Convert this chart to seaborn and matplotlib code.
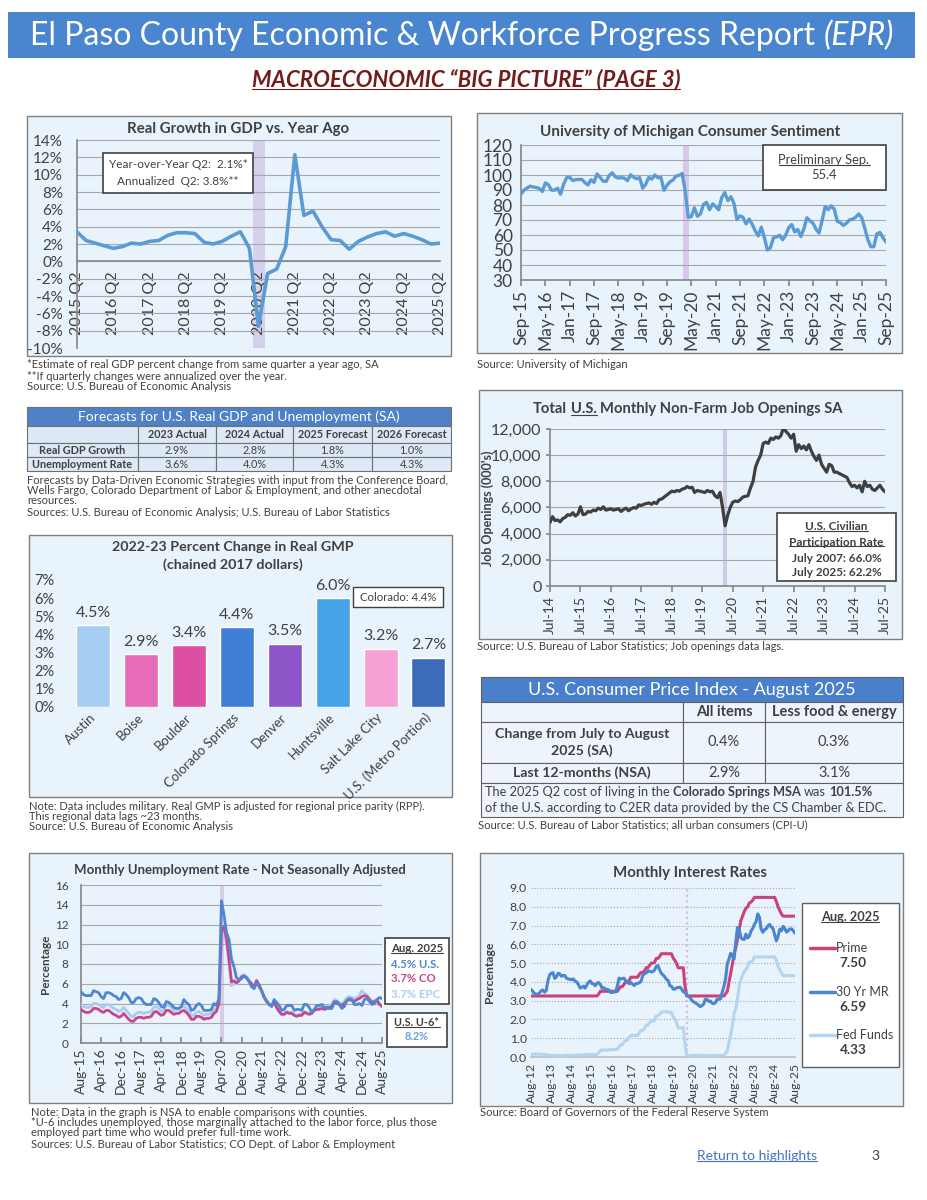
import numpy as np
import seaborn as sns
import matplotlib
matplotlib.use('Agg')
import matplotlib.pyplot as plt
from matplotlib.patches import Rectangle
from matplotlib.lines import Line2D

# ---------------- data ----------------
gdp_ticks = ['2015 Q2', '2016 Q2', '2017 Q2', '2018 Q2', '2019 Q2', '2020 Q2',
             '2021 Q2', '2022 Q2', '2023 Q2', '2024 Q2', '2025 Q2']
gdp_yoy = [3.4, 2.4, 2.1, 1.8, 1.5, 1.7, 2.1, 2.0, 2.3, 2.4, 3.0, 3.3, 3.3, 3.2,
           2.2, 2.0, 2.3, 2.9, 3.4, 1.5, -7.5, -1.4, -0.9, 1.7, 12.3, 5.3, 5.8,
           4.0, 2.5, 2.4, 1.4, 2.3, 2.8, 3.2, 3.4, 2.9, 3.2, 2.9, 2.5, 2.0, 2.1]

sent_ticks = ['Sep-15', 'May-16', 'Jan-17', 'Sep-17', 'May-18', 'Jan-19', 'Sep-19',
              'May-20', 'Jan-21', 'Sep-21', 'May-22', 'Jan-23', 'Sep-23', 'May-24',
              'Jan-25', 'Sep-25']
sentiment = [87.2, 90.0, 91.3, 92.6,
             92.0, 91.7, 91.0, 89.0, 94.7, 93.5, 90.0, 89.8, 91.2, 87.2, 93.8, 98.2,
             98.5, 96.3, 96.9, 97.0, 97.1, 95.0, 93.4, 96.8, 95.1, 100.7, 98.5, 95.9,
             95.7, 99.7, 101.4, 98.8, 98.0, 98.2, 97.9, 96.2, 100.1, 98.6, 97.5, 98.3,
             91.2, 93.8, 98.4, 97.2, 100.0, 98.2, 98.4, 89.8, 93.2, 95.5, 96.8, 99.3,
             99.8, 101.0, 89.1, 71.8, 72.3, 78.1, 72.5, 74.1, 80.4, 81.8, 76.9, 80.7,
             79.0, 76.8, 84.9, 88.3, 82.9, 85.5, 81.2, 70.3, 72.8, 71.7, 67.4, 70.6,
             67.2, 62.8, 59.4, 65.2, 58.4, 50.0, 51.5, 58.2, 58.6, 59.9, 56.8, 59.7,
             64.9, 67.0, 62.0, 63.7, 59.0, 64.2, 71.5, 69.4, 67.9, 63.8, 61.3, 69.7,
             79.0, 76.9, 79.4, 77.2, 69.1, 68.2, 66.4, 67.9, 70.1, 70.5, 71.8, 74.0,
             71.7, 64.7, 57.0, 52.2, 52.2, 60.7, 61.7, 58.2, 55.4]

fc_cols = ['2023 Actual', '2024 Actual', '2025 Forecast', '2026 Forecast']
fc_rows = ['Real GDP Growth', 'Unemployment Rate']
fc_vals = [['2.9%', '2.8%', '1.8%', '1.0%'],
           ['3.6%', '4.0%', '4.3%', '4.3%']]

gmp_cities = ['Austin', 'Boise', 'Boulder', 'Colorado Springs', 'Denver',
              'Huntsville', 'Salt Lake City', 'U.S. (Metro Portion)']
gmp_change = [4.5, 2.9, 3.4, 4.4, 3.5, 6.0, 3.2, 2.7]
gmp_colors = ['#a8cdf2', '#e76bb8', '#dc4fa4', '#3f7fd8', '#8c55c8', '#46a3e8',
              '#f6a0d6', '#3b6cba']

job_ticks = ['Jul-14', 'Jul-15', 'Jul-16', 'Jul-17', 'Jul-18', 'Jul-19', 'Jul-20',
             'Jul-21', 'Jul-22', 'Jul-23', 'Jul-24', 'Jul-25']
job_openings = [4850, 5300, 5000, 5050, 4900, 5150,
                5250, 5450, 5400, 5600, 5350, 5500, 6050, 5450, 5500, 5700, 5650, 5800,
                5750, 5950, 5850, 6050, 5800, 5850, 5900, 5800, 5850, 5900, 5700, 5850,
                5950, 5750, 5900, 6000, 5950, 6200, 6150, 6250, 6300, 6350, 6250, 6400,
                6300, 6600, 6650, 6800, 6950, 7100, 7250, 7200, 7300, 7250, 7400, 7450,
                7600, 7500, 7550, 7150, 7300, 7250, 7200, 7150, 7300, 7200, 7250, 6900,
                6750, 7150, 6000, 4600, 5400, 6000, 6400, 6500, 6450, 6600, 6800, 6850,
                6900, 7500, 8000, 9100, 9600, 10000, 10900, 11000, 10900, 11300, 11200, 11400,
                11300, 11500, 12100, 11800, 11600, 11300, 11600, 10300, 10800, 10500, 10700, 10400,
                10800, 10300, 9900, 9600, 10000, 9300, 9000, 8700, 9300, 9200, 8700, 8700,
                8600, 8500, 8400, 8300, 7900, 7600, 7700, 7500, 7700, 7200, 8000, 7600,
                7700, 7400, 7300, 7500, 7700, 7400, 7200]

cpi_cols = ['All items', 'Less food & energy']
cpi_rows = ['Change from July to August\n2025 (SA)', 'Last 12-months (NSA)']
cpi_vals = [['0.4%', '0.3%'], ['2.9%', '3.1%']]

unemp_ticks = ['Aug-15', 'Apr-16', 'Dec-16', 'Aug-17', 'Apr-18', 'Dec-18', 'Aug-19',
               'Apr-20', 'Dec-20', 'Aug-21', 'Apr-22', 'Dec-22', 'Aug-23', 'Apr-24',
               'Dec-24', 'Aug-25']
unemp_us = [5.2, 4.9, 4.8, 4.8, 4.8,
            5.3, 5.2, 5.1, 4.7, 4.5, 5.1, 5.1, 5.0, 4.8, 4.7, 4.4, 4.5,
            5.1, 4.9, 4.6, 4.1, 4.1, 4.5, 4.6, 4.5, 4.1, 3.9, 3.9, 3.9,
            4.5, 4.4, 4.1, 3.7, 3.6, 4.2, 4.1, 3.9, 3.6, 3.5, 3.5, 3.7,
            4.4, 4.1, 3.9, 3.3, 3.4, 3.8, 4.0, 3.8, 3.3, 3.3, 3.3, 3.4,
            4.0, 3.8, 4.5, 14.4, 13.0, 11.2, 10.5, 8.5, 7.7, 6.6, 6.4, 6.5,
            6.8, 6.6, 6.2, 5.7, 5.5, 6.1, 5.7, 5.3, 4.6, 4.3, 3.9, 3.7,
            4.4, 4.1, 3.8, 3.3, 3.4, 3.8, 3.8, 3.8, 3.3, 3.4, 3.4, 3.3,
            3.9, 3.9, 3.6, 3.1, 3.4, 3.8, 3.8, 3.9, 3.6, 3.6, 3.5, 3.5,
            4.1, 4.2, 3.9, 3.5, 3.7, 4.3, 4.5, 4.4, 3.9, 3.9, 4.0, 3.8,
            4.4, 4.5, 4.2, 3.9, 4.0, 4.4, 4.6, 4.5]
unemp_co = [3.4, 3.2, 3.1, 3.1, 3.2,
            3.5, 3.5, 3.4, 3.2, 3.1, 3.3, 3.3, 3.1, 2.9, 2.8, 2.6, 2.7,
            3.0, 2.7, 2.4, 2.2, 2.2, 2.5, 2.6, 2.6, 2.5, 2.6, 2.6, 2.7,
            3.1, 3.2, 3.0, 2.8, 2.9, 3.3, 3.3, 3.1, 2.9, 3.0, 3.0, 3.2,
            3.3, 3.1, 2.8, 2.4, 2.4, 2.7, 2.7, 2.6, 2.4, 2.5, 2.5, 2.6,
            3.0, 3.2, 4.0, 11.3, 11.8, 10.6, 8.5, 6.2, 6.3, 6.1, 6.3, 6.7,
            6.8, 6.6, 6.3, 6.0, 5.7, 6.3, 5.9, 5.3, 4.7, 4.2, 3.9, 3.8,
            4.2, 3.6, 3.2, 2.9, 2.9, 3.1, 3.0, 3.0, 2.8, 2.7, 2.8, 2.8,
            3.1, 3.0, 2.9, 3.0, 3.3, 3.4, 3.4, 3.5, 3.4, 3.5, 3.6, 3.7,
            4.2, 4.0, 3.9, 3.8, 4.0, 4.3, 4.4, 4.3, 4.2, 4.4, 4.5, 4.7,
            4.8, 4.7, 4.4, 4.1, 4.2, 4.3, 3.9, 3.7]
unemp_epc = [3.9, 3.7, 3.6, 3.6, 3.7,
             4.0, 4.0, 3.9, 3.7, 3.6, 3.9, 3.9, 3.7, 3.5, 3.4, 3.2, 3.3,
             3.6, 3.3, 3.0, 2.7, 2.7, 3.0, 3.1, 3.1, 3.0, 3.1, 3.1, 3.2,
             3.6, 3.7, 3.5, 3.2, 3.3, 3.8, 3.8, 3.6, 3.3, 3.4, 3.4, 3.6,
             3.7, 3.5, 3.2, 2.8, 2.8, 3.1, 3.2, 3.0, 2.8, 2.9, 2.9, 3.0,
             3.4, 3.5, 4.3, 10.9, 11.2, 10.0, 8.0, 5.8, 6.0, 6.0, 6.4, 6.8,
             6.9, 6.7, 6.3, 6.0, 5.6, 6.4, 5.9, 5.2, 4.6, 4.1, 3.9, 3.7,
             4.1, 3.6, 3.2, 2.9, 3.0, 3.2, 3.1, 3.1, 2.9, 2.8, 2.9, 2.9,
             3.2, 3.1, 3.0, 3.1, 3.4, 3.5, 3.6, 3.7, 3.6, 3.7, 3.8, 3.9,
             4.4, 4.3, 4.1, 4.0, 4.2, 4.6, 4.7, 4.6, 4.5, 4.6, 4.8, 5.3,
             5.0, 4.9, 4.5, 4.2, 4.3, 4.4, 4.0, 3.7]

rate_ticks = ['Aug-12', 'Aug-13', 'Aug-14', 'Aug-15', 'Aug-16', 'Aug-17', 'Aug-18',
              'Aug-19', 'Aug-20', 'Aug-21', 'Aug-22', 'Aug-23', 'Aug-24', 'Aug-25']
prime = ([3.25] * 5 + [3.25] * 12 + [3.25] * 12 + [3.25] * 11 + [3.35]
         + [3.50] * 11 + [3.63]
         + [3.75, 3.75, 3.88, 4.00, 4.00, 4.07, 4.25, 4.25, 4.25, 4.25, 4.25, 4.40]
         + [4.50, 4.50, 4.58, 4.75, 4.75, 4.87, 5.00, 5.00, 5.03, 5.25, 5.25, 5.35]
         + [5.50] * 7 + [5.27, 5.15, 4.99, 4.75, 4.75]
         + [4.75, 4.75, 3.78] + [3.25] * 9
         + [3.25] * 12
         + [3.25, 3.25, 3.37, 3.50, 3.98, 4.44, 4.95, 5.50, 5.83, 6.25, 6.79, 7.26]
         + [7.50, 7.74, 7.92, 8.00, 8.20, 8.25, 8.35, 8.50, 8.50, 8.50, 8.50, 8.50]
         + [8.50] * 8 + [8.28, 8.00, 7.81, 7.61]
         + [7.50] * 8)
mortgage30 = [3.60, 3.50, 3.38, 3.35, 3.35,
              3.41, 3.53, 3.57, 3.45, 3.54, 4.07, 4.37, 4.46, 4.49, 4.19, 4.26, 4.46,
              4.43, 4.30, 4.34, 4.34, 4.19, 4.16, 4.13, 4.12, 4.16, 4.04, 4.00, 3.86,
              3.67, 3.71, 3.77, 3.67, 3.84, 3.98, 4.05, 3.91, 3.89, 3.80, 3.94, 3.96,
              3.87, 3.66, 3.69, 3.61, 3.60, 3.57, 3.44, 3.44, 3.46, 3.47, 3.77, 4.20,
              4.15, 4.17, 4.20, 4.05, 4.01, 3.90, 3.97, 3.88, 3.81, 3.90, 3.92, 3.95,
              4.03, 4.33, 4.44, 4.47, 4.59, 4.57, 4.53, 4.55, 4.63, 4.83, 4.87, 4.64,
              4.46, 4.37, 4.27, 4.14, 4.07, 3.80, 3.77, 3.62, 3.61, 3.69, 3.70, 3.72,
              3.62, 3.47, 3.45, 3.31, 3.23, 3.16, 3.02, 2.94, 2.89, 2.83, 2.77, 2.68,
              2.74, 2.81, 3.08, 3.06, 2.96, 2.98, 2.87, 2.84, 2.90, 3.07, 3.07, 3.10,
              3.45, 3.76, 4.17, 4.98, 5.23, 5.52, 5.41, 5.22, 6.11, 6.90, 6.81, 6.36,
              6.27, 6.26, 6.54, 6.34, 6.43, 6.71, 6.84, 7.07, 7.20, 7.62, 7.44, 6.82,
              6.64, 6.78, 6.82, 6.99, 7.06, 6.92, 6.85, 6.50, 6.18, 6.43, 6.81, 6.72,
              6.96, 6.84, 6.65, 6.73, 6.82, 6.82, 6.72, 6.59]
fed_funds = [0.13, 0.14, 0.16, 0.16, 0.16,
             0.14, 0.15, 0.14, 0.15, 0.11, 0.09, 0.09, 0.08, 0.08, 0.09, 0.08, 0.09,
             0.07, 0.07, 0.08, 0.09, 0.09, 0.10, 0.09, 0.09, 0.09, 0.09, 0.09, 0.12,
             0.11, 0.11, 0.11, 0.12, 0.12, 0.13, 0.13, 0.14, 0.14, 0.12, 0.12, 0.24,
             0.34, 0.38, 0.36, 0.37, 0.37, 0.38, 0.39, 0.40, 0.40, 0.40, 0.41, 0.54,
             0.65, 0.66, 0.79, 0.90, 0.91, 1.04, 1.15, 1.16, 1.15, 1.15, 1.16, 1.30,
             1.41, 1.42, 1.51, 1.69, 1.70, 1.82, 1.91, 1.91, 1.95, 2.19, 2.20, 2.27,
             2.40, 2.40, 2.41, 2.42, 2.39, 2.38, 2.40, 2.13, 2.04, 1.83, 1.55, 1.55,
             1.55, 1.58, 0.65, 0.05, 0.05, 0.08, 0.09, 0.10, 0.09, 0.09, 0.09, 0.09,
             0.09, 0.08, 0.07, 0.07, 0.06, 0.08, 0.10, 0.09, 0.08, 0.08, 0.08, 0.08,
             0.08, 0.08, 0.20, 0.33, 0.77, 1.21, 1.68, 2.33, 2.56, 3.08, 3.78, 4.10,
             4.33, 4.57, 4.65, 4.83, 5.06, 5.08, 5.12, 5.33, 5.33, 5.33, 5.33, 5.33,
             5.33, 5.33, 5.33, 5.33, 5.33, 5.33, 5.33, 5.33, 5.13, 4.83, 4.64, 4.48,
             4.33, 4.33, 4.33, 4.33, 4.33, 4.33, 4.33, 4.33]

# ---------------- page setup ----------------
sns.set_theme(style='white')
plt.rcParams['font.family'] = ['Lato', 'DejaVu Sans']

W, H = 927, 1200
DARK = '#404040'
PANEL = '#e9f3fb'
NOTE = 8.0
fig = plt.figure(figsize=(W / 100, H / 100), dpi=100)
fig.patch.set_facecolor('white')
R = fig.canvas.get_renderer()


def fy(y):
    return 1 - y / H


def rect(x0, y0, x1, y1, fc, ec='#7f7f7f', lw=1.0, z=-5):
    fig.add_artist(Rectangle((x0 / W, fy(y1)), (x1 - x0) / W, (y1 - y0) / H,
                             transform=fig.transFigure, fc=fc, ec=ec, lw=lw, zorder=z))


def txt(x, y, s, size=8, color=DARK, ha='left', va='center', underline=False, **kw):
    t = fig.text(x / W, fy(y), s, fontsize=size, color=color, ha=ha, va=va, zorder=6, **kw)
    if underline:
        bb = t.get_window_extent(R)
        fig.add_artist(Line2D([bb.x0 / W, bb.x1 / W], [(bb.y0 + 1.5) / H] * 2, color=color,
                              lw=0.8, transform=fig.transFigure, zorder=6))
    return t


def measure(s, size, **kw):
    t = fig.text(0, 0, s, fontsize=size, **kw)
    w = t.get_window_extent(R).width
    t.remove()
    return w


def rich(x, y, segs, size, color=DARK, ha='left'):
    sp = measure('a a', size) - measure('aa', size)
    clean = [{k: v for k, v in kw.items() if k != 'underline'} for _, kw in segs]
    widths = [measure(s, size, **kw) for (s, _), kw in zip(segs, clean)]
    total = sum(widths) + sp * (len(segs) - 1)
    cur = x - total / 2 if ha == 'center' else x
    for (s, kw), ck, w in zip(segs, clean, widths):
        txt(cur, y, s, size=size, color=color, underline=kw.get('underline', False), **ck)
        cur += w + sp


def add_ax(x0, y0, x1, y1):
    ax = fig.add_axes([x0 / W, fy(y1), (x1 - x0) / W, (y1 - y0) / H])
    ax.patch.set_alpha(0)
    for s in ['top', 'right']:
        ax.spines[s].set_visible(False)
    for s in ['left', 'bottom']:
        ax.spines[s].set_color('#8a8a8a')
    ax.set_xlabel('')
    return ax


def hgrid(ax, ls='-'):
    ax.yaxis.grid(True, color='#a8a8a8', lw=0.8, ls=ls)
    ax.set_axisbelow(True)


B = {'fontweight': 'bold'}

# ---------------- header ----------------
rect(8, 12, 915, 58, '#4a86d0', ec='none', z=-4)
rich(462, 36, [('El Paso County Economic & Workforce Progress Report', {}),
               ('(EPR)', {'style': 'italic'})], size=23, color='white', ha='center')
txt(466, 80, 'MACROECONOMIC “BIG PICTURE” (PAGE 3)', size=16, fontweight='bold',
    style='italic', color='#721c1c', ha='center', underline=True)

# ---------------- GDP ----------------
rect(27, 116, 451, 356, PANEL)
txt(238, 129, 'Real Growth in GDP vs. Year Ago', size=10.8, fontweight='bold', ha='center')
ax = add_ax(77, 140, 440, 348)
qx = np.arange(len(gdp_yoy))
ax.axvspan(19.4, 20.7, color='#d5d0ee', zorder=0.5, lw=0)
sns.lineplot(x=qx, y=gdp_yoy, ax=ax, color='#5b9bd5', linewidth=2.6, zorder=3)
ax.set_xlim(0, len(gdp_yoy) - 1)
ax.set_ylim(-10, 14)
ax.set_yticks(range(-10, 15, 2), [f'{v}%' for v in range(-10, 15, 2)])
hgrid(ax)
ax.spines['bottom'].set_position(('data', 0))
ax.set_xticks(np.arange(0, len(gdp_yoy), 4), gdp_ticks, rotation=90)
ax.set_xticks(qx, minor=True)
ax.tick_params(axis='x', which='both', direction='in', length=5, color='#8a8a8a',
               labelsize=11.5, labelcolor=DARK, pad=7)
ax.tick_params(axis='y', length=0, labelsize=11, labelcolor=DARK, pad=10)
rect(103, 153, 253, 193, 'white', ec='#404040', lw=1.2, z=5)
txt(178, 165, 'Year-over-Year Q2:  2.1%*', size=8.5, ha='center')
txt(178, 182, 'Annualized  Q2: 3.8%**', size=8.5, ha='center')
txt(27, 365, '*Estimate of real GDP percent change from same quarter a year ago, SA', size=NOTE)
txt(27, 376, '**If quarterly changes were annualized over the year.', size=NOTE)
txt(27, 387, 'Source: U.S. Bureau of Economic Analysis', size=NOTE)

# ---------------- Consumer sentiment ----------------
rect(477, 113, 902, 353, PANEL)
txt(690, 132, 'University of Michigan Consumer Sentiment', size=11, fontweight='bold', ha='center')
ax = add_ax(521, 145, 886, 280)
mx = np.arange(len(sentiment))
ax.axvspan(53.3, 55.3, color='#d8c8ee', zorder=0.5, lw=0)
sns.lineplot(x=mx, y=sentiment, ax=ax, color='#5b9bd5', linewidth=2.4, zorder=3)
ax.set_xlim(0, len(sentiment) - 1)
ax.set_ylim(30, 120)
ax.set_yticks(range(30, 121, 10))
hgrid(ax)
step = (len(sentiment) - 1) // (len(sent_ticks) - 1)
ax.set_xticks(np.arange(0, len(sentiment), step), sent_ticks, rotation=90)
ax.tick_params(axis='x', bottom=True, length=4, color='#8a8a8a', labelsize=12.5, labelcolor=DARK, pad=3)
ax.tick_params(axis='y', length=0, labelsize=12.5, labelcolor=DARK, pad=6)
rect(763, 145, 886, 190, 'white', ec='#404040', lw=1.2, z=5)
txt(824, 160, 'Preliminary Sep.', size=9.3, ha='center', underline=True)
txt(824, 175, '55.4', size=9.3, ha='center')
txt(477, 365, 'Source: University of Michigan', size=NOTE)

# ---------------- Forecast table ----------------
tx = [27, 138, 216, 293, 372, 451]
ty = [407, 426, 443, 457, 471]
TBL = '#dde9f6'
rect(tx[0], ty[0], tx[-1], ty[1], '#4f81c6', ec='#707070', lw=0.8, z=2)
txt(239, 416.5, 'Forecasts for U.S. Real GDP and Unemployment (SA)', size=10, color='white', ha='center')
rect(tx[0], ty[1], tx[1], ty[2], TBL, ec='#707070', lw=0.8, z=2)
for j, head in enumerate(fc_cols):
    rect(tx[j + 1], ty[1], tx[j + 2], ty[2], TBL, ec='#707070', lw=0.8, z=2)
    txt((tx[j + 1] + tx[j + 2]) / 2, (ty[1] + ty[2]) / 2, head, size=7.8, fontweight='bold', ha='center')
for i, row in enumerate(fc_rows):
    y0, y1 = ty[i + 2], ty[i + 3]
    rect(tx[0], y0, tx[1], y1, TBL, ec='#707070', lw=0.8, z=2)
    txt((tx[0] + tx[1]) / 2, (y0 + y1) / 2, row, size=7.8, fontweight='bold', ha='center')
    for j, v in enumerate(fc_vals[i]):
        rect(tx[j + 1], y0, tx[j + 2], y1, TBL, ec='#707070', lw=0.8, z=2)
        txt((tx[j + 1] + tx[j + 2]) / 2, (y0 + y1) / 2, v, size=7.8, ha='center')
txt(27, 480, 'Forecasts by Data-Driven Economic Strategies with input from the Conference Board,', size=NOTE)
txt(27, 490, 'Wells Fargo, Colorado Department of Labor & Employment, and other anecdotal', size=NOTE)
txt(27, 501, 'resources.', size=NOTE)
txt(27, 512, 'Sources: U.S. Bureau of Economic Analysis; U.S. Bureau of Labor Statistics', size=NOTE)

# ---------------- GMP bars ----------------
rect(29, 535, 452, 797, PANEL)
txt(233, 547, '2022-23 Percent Change in Real GMP', size=10.3, fontweight='bold', ha='center')
txt(233, 565, '(chained 2017 dollars)', size=10.3, fontweight='bold', ha='center')
ax = add_ax(67, 580, 450, 707)
sns.barplot(x=gmp_cities, y=gmp_change, hue=gmp_cities, palette=gmp_colors, legend=False,
            saturation=1, width=0.71, ax=ax)
for c in ax.containers:
    ax.bar_label(c, fmt='%.1f%%', padding=4, fontsize=11.5, color=DARK)
ax.set_xlim(-0.55, len(gmp_cities) - 0.55)
ax.set_ylim(0, 7)
ax.set_yticks(range(0, 8), [f'{v}%' for v in range(0, 8)])
for s in ['left', 'bottom']:
    ax.spines[s].set_visible(False)
ax.set_xticks(range(len(gmp_cities)), gmp_cities, rotation=45, ha='right', va='center',
              rotation_mode='anchor')
ax.tick_params(axis='x', length=0, labelsize=9.5, labelcolor=DARK, pad=6)
ax.tick_params(axis='y', length=0, labelsize=10.5, labelcolor=DARK, pad=9)
rect(353, 587, 443, 607, 'white', ec='#404040', lw=1.0, z=5)
txt(398, 597, 'Colorado: 4.4%', size=8.2, ha='center')
txt(29, 806, 'Note: Data includes military. Real GMP is adjusted for regional price parity (RPP).', size=NOTE)
txt(29, 816, 'This regional data lags ~23 months.', size=NOTE)
txt(29, 827, 'Source: U.S. Bureau of Economic Analysis', size=NOTE)

# ---------------- Job openings ----------------
rect(479, 390, 902, 639, PANEL)
rich(688, 409, [('Total', B), ('U.S.', dict(B, underline=True)),
                ('Monthly Non-Farm Job Openings SA', B)], size=10.6, ha='center')
ax = add_ax(550, 429, 885, 586)
jx = np.arange(len(job_openings))
ax.axvspan(68.3, 69.8, color='#d0cce8', zorder=0.5, lw=0)
sns.lineplot(x=jx, y=job_openings, ax=ax, color='#3f3f3f', linewidth=2.3, zorder=3)
ax.set_xlim(0, len(job_openings) - 1)
ax.set_ylim(0, 12000)
ax.set_yticks(range(0, 12001, 2000), [f'{v:,}' for v in range(0, 12001, 2000)])
hgrid(ax)
ax.set_xticks(np.arange(0, len(job_openings), 12), job_ticks, rotation=90)
ax.tick_params(axis='x', bottom=True, length=4, color='#8a8a8a', labelsize=10, labelcolor=DARK, pad=3)
ax.tick_params(axis='y', left=True, length=3, color='#8a8a8a', labelsize=11.5, labelcolor=DARK, pad=3)
txt(488, 508, "Job Openings (000's)", size=9, fontweight='bold', ha='center', rotation=90)
rect(777, 513, 896, 581, 'white', ec='#404040', lw=1.2, z=5)
txt(836.5, 527, 'U.S. Civilian', size=8.5, fontweight='bold', ha='center', underline=True)
txt(836.5, 542, 'Participation Rate', size=8.5, fontweight='bold', ha='center', underline=True)
txt(836.5, 558, 'July 2007: 66.0%', size=8.5, fontweight='bold', ha='center')
txt(836.5, 573, 'July 2025: 62.2%', size=8.5, fontweight='bold', ha='center')
txt(477, 647, 'Source: U.S. Bureau of Labor Statistics; Job openings data lags.', size=NOTE)

# ---------------- CPI table ----------------
cx = [481, 683, 765, 903]
cy = [677, 702, 722, 763, 783, 817]
CPI_BG = '#eef4fb'
rect(cx[0], cy[0], cx[-1], cy[1], '#4a7fcb', ec='#606060', lw=0.8, z=2)
txt((cx[0] + cx[-1]) / 2, (cy[0] + cy[1]) / 2, 'U.S. Consumer Price Index - August 2025',
    size=13, color='white', ha='center')
rect(cx[0], cy[1], cx[1], cy[2], CPI_BG, ec='#606060', lw=0.8, z=2)
for j, head in enumerate(cpi_cols):
    rect(cx[j + 1], cy[1], cx[j + 2], cy[2], CPI_BG, ec='#606060', lw=0.8, z=2)
    txt((cx[j + 1] + cx[j + 2]) / 2, (cy[1] + cy[2]) / 2, head, size=10.5, fontweight='bold', ha='center')
for i, row in enumerate(cpi_rows):
    y0, y1 = cy[i + 2], cy[i + 3]
    rect(cx[0], y0, cx[1], y1, CPI_BG, ec='#606060', lw=0.8, z=2)
    txt((cx[0] + cx[1]) / 2, (y0 + y1) / 2, row, size=10.2, fontweight='bold', ha='center',
        linespacing=1.45)
    for j, v in enumerate(cpi_vals[i]):
        rect(cx[j + 1], y0, cx[j + 2], y1, CPI_BG, ec='#606060', lw=0.8, z=2)
        txt((cx[j + 1] + cx[j + 2]) / 2, (y0 + y1) / 2, v, size=10.5, ha='center')
rect(cx[0], cy[4], cx[-1], cy[5], CPI_BG, ec='#606060', lw=0.8, z=2)
rich(485, 792, [('The 2025 Q2 cost of living in the', {}), ('Colorado Springs MSA', B),
                ('was', {}), ('101.5%', B)], size=9.2)
txt(485, 808, 'of the U.S. according to C2ER data provided by the CS Chamber & EDC.', size=9.2)
txt(478, 825, 'Source: U.S. Bureau of Labor Statistics; all urban consumers (CPI-U)', size=NOTE)

# ---------------- Unemployment ----------------
rect(29, 853, 452, 1103, PANEL)
txt(240, 870, 'Monthly Unemployment Rate - Not Seasonally Adjusted', size=9.5, fontweight='bold', ha='center')
ax = add_ax(81, 885, 382, 1043)
ux = np.arange(len(unemp_us))
ax.axvspan(55.5, 57, color='#d4cfe6', zorder=0.5, lw=0)
sns.lineplot(x=ux, y=unemp_epc, ax=ax, color='#a8cdec', linewidth=2.0, zorder=3)
sns.lineplot(x=ux, y=unemp_co, ax=ax, color='#c8468e', linewidth=2.0, zorder=3)
sns.lineplot(x=ux, y=unemp_us, ax=ax, color='#4f86cf', linewidth=2.0, zorder=3)
ax.set_xlim(0, len(unemp_us) - 1)
ax.set_ylim(0, 16)
ax.set_yticks(range(0, 17, 2))
hgrid(ax)
step = (len(unemp_us) - 1) // (len(unemp_ticks) - 1)
ax.set_xticks(np.arange(0, len(unemp_us), step), unemp_ticks, rotation=90)
ax.tick_params(axis='x', bottom=True, direction='in', length=4, color='#8a8a8a', labelsize=10,
               labelcolor=DARK, pad=4)
ax.tick_params(axis='y', length=0, labelsize=8.5, labelcolor=DARK, pad=9)
txt(45, 964, 'Percentage', size=8.5, fontweight='bold', ha='center', rotation=90)
rect(385, 938, 449, 1004, 'white', ec='#404040', lw=1.2, z=5)
txt(391, 949, 'Aug. 2025', size=8.2, fontweight='bold', underline=True)
txt(391, 964, '4.5% U.S.', size=8.2, fontweight='bold', color='#4f86cf')
txt(391, 978, '3.7% CO', size=8.2, fontweight='bold', color='#c8468e')
txt(391, 994, '3.7% EPC', size=8.2, fontweight='bold', color='#a8cdec')
rect(387, 1013, 447, 1047, 'white', ec='#404040', lw=1.2, z=5)
txt(417, 1023, 'U.S. U-6*', size=7.8, fontweight='bold', ha='center', underline=True)
txt(417, 1036, '8.2%', size=7.8, fontweight='bold', ha='center', color='#6f9fd8')
txt(31, 1112, 'Note: Data in the graph is NSA to enable comparisons with counties.', size=NOTE)
txt(31, 1123, '*U-6 includes unemployed, those marginally attached to the labor force, plus those', size=NOTE)
txt(31, 1133, 'employed part time who would prefer full-time work.', size=NOTE)
txt(31, 1144, 'Sources: U.S. Bureau of Labor Statistics; CO Dept. of Labor & Employment', size=NOTE)

# ---------------- Interest rates ----------------
rect(480, 853, 903, 1106, PANEL)
txt(690, 873, 'Monthly Interest Rates', size=10.8, fontweight='bold', ha='center')
ax = add_ax(531, 888, 795, 1057)
rx = np.arange(len(prime))
ax.axvline(92, color='#c8c0d8', lw=1.5, ls=':', zorder=1)
sns.lineplot(x=rx, y=fed_funds, ax=ax, color='#b3d5f0', linewidth=2.2, zorder=3)
sns.lineplot(x=rx, y=prime, ax=ax, color='#c9427a', linewidth=2.2, zorder=3)
sns.lineplot(x=rx, y=mortgage30, ax=ax, color='#4a86d0', linewidth=2.2, zorder=4)
ax.set_xlim(0, len(prime) - 1)
ax.set_ylim(0, 9)
ax.set_yticks(np.arange(0, 9.1, 1.0), [f'{v:.1f}' for v in np.arange(0, 9.1, 1.0)])
hgrid(ax, ls=':')
ax.spines['left'].set_visible(False)
ax.spines['bottom'].set_color('#c0c0c0')
ax.set_xticks(np.arange(0, len(prime), 12), rate_ticks, rotation=90)
ax.tick_params(axis='x', length=0, labelsize=8.8, labelcolor=DARK, pad=4)
ax.tick_params(axis='y', length=0, labelsize=8.8, labelcolor=DARK, pad=3)
txt(490, 972, 'Percentage', size=8.8, fontweight='bold', ha='center', rotation=90)
rect(802, 903, 899, 1067, 'white', ec='#606060', lw=1.0, z=5)
txt(850, 917, 'Aug. 2025', size=9.2, fontweight='bold', ha='center', underline=True)
for (name, val, col), yy in zip([('Prime', '7.50', '#c9427a'), ('30 Yr MR', '6.59', '#4a86d0'),
                                 ('Fed Funds', '4.33', '#b3d5f0')], [948, 992, 1035]):
    fig.add_artist(Line2D([810 / W, 835 / W], [fy(yy)] * 2, color=col, lw=2.5,
                          transform=fig.transFigure, zorder=6))
    txt(836, yy, name, size=9)
    txt(853, yy + 15, val, size=9.8, fontweight='bold', ha='center')
txt(480, 1113, 'Source: Board of Governors of the Federal Reserve System', size=NOTE)

# ---------------- footer ----------------
txt(697, 1156, 'Return to highlights', size=10, color='#4472c4', underline=True)
txt(871, 1156, '3', size=10)

fig.savefig('out.png', dpi=100)
